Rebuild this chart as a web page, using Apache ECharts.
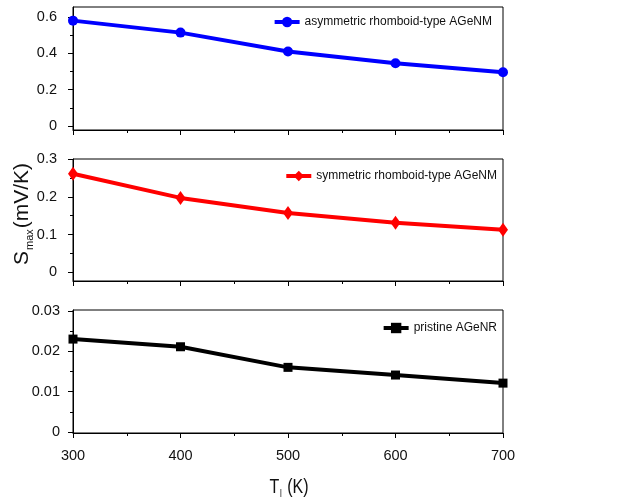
<!DOCTYPE html>
<html>
<head>
<meta charset="utf-8">
<script src="https://cdn.jsdelivr.net/npm/echarts@6/dist/echarts.min.js"></script>
<style>
html,body{margin:0;padding:0;background:#fff;}
#chart{width:621px;height:500px;}
</style>
</head>
<body>
<div id="chart"></div>
<script>
const temperatures = [300, 400, 500, 600, 700];
const asymValues = [0.58, 0.514, 0.41, 0.345, 0.296];
const symValues = [0.261, 0.197, 0.157, 0.131, 0.113];
const pristineValues = [0.023, 0.0211, 0.016, 0.0141, 0.0121];
const seriesNames = ['asymmetric rhomboid-type AGeNM', 'symmetric rhomboid-type AGeNM', 'pristine AGeNR'];
const yTicks1 = [0, 0.2, 0.4, 0.6];
const yMinor1 = [0.1, 0.3, 0.5];
const yTicks2 = [0, 0.1, 0.2, 0.3];
const yMinor2 = [0.05, 0.15, 0.25];
const yTicks3 = [0, 0.01, 0.02, 0.03];
const yMinor3 = [0.005, 0.015, 0.025];

const chart = echarts.init(document.getElementById('chart'), null, {renderer: 'canvas'});
const FONT = 'Liberation Sans, Arial, sans-serif';
const grids = [
  {left: 73, top: 7, width: 430, height: 123, show: true, borderColor: '#000', borderWidth: 1},
  {left: 73, top: 159, width: 430, height: 122, show: true, borderColor: '#000', borderWidth: 1},
  {left: 73, top: 310, width: 430, height: 123, show: true, borderColor: '#000', borderWidth: 1}
];
function xAxis(i, labels) {
  return {
    type: 'value', gridIndex: i, min: 300, max: 700, interval: 100,
    axisLine: {show: true, onZero: false, lineStyle: {color: '#000', width: 1}},
    axisTick: {show: true, inside: false, length: 5, lineStyle: {color: '#000'}},
    minorTick: {show: true, splitNumber: 2, length: 3, lineStyle: {color: '#000'}},
    splitLine: {show: false},
    axisLabel: {show: labels, margin: 15, color: '#111', fontSize: 14.5, fontFamily: FONT}
  };
}
function yAxis(i, min, max, ticks, margin) {
  return {
    type: 'value', gridIndex: i, min: min, max: max,
    axisLine: {show: true, lineStyle: {color: '#000', width: 1}},
    axisTick: {show: true, length: 5, customValues: ticks, lineStyle: {color: '#000'}},
    splitLine: {show: false},
    axisLabel: {show: true, customValues: ticks, margin: margin, color: '#111', fontSize: 14.5, fontFamily: FONT,
      formatter: v => String(+v.toFixed(4))}
  };
}
function yMinorAxis(i, min, max, ticks) {
  return {
    type: 'value', gridIndex: i, min: min, max: max, position: 'left',
    axisLine: {show: false},
    axisTick: {show: true, length: 3, customValues: ticks, lineStyle: {color: '#000'}},
    splitLine: {show: false},
    axisLabel: {show: false}
  };
}
const legendText = {fontSize: 12, color: '#111', fontFamily: FONT};
function legend(name, top, right) {
  return {data: [name], right: right, top: top, padding: 0, itemWidth: 25, itemHeight: 13,
    lineStyle: {width: 4}, textStyle: legendText};
}
const option = {
  animation: false,
  backgroundColor: '#fff',
  grid: grids,
  xAxis: [xAxis(0, false), xAxis(1, false), xAxis(2, true)],
  yAxis: [
    yAxis(0, -0.022, 0.655, yTicks1, 16),
    yAxis(1, -0.023, 0.3, yTicks2, 16),
    yAxis(2, -0.00025, 0.0302, yTicks3, 13),
    yMinorAxis(0, -0.022, 0.655, yMinor1),
    yMinorAxis(1, -0.023, 0.3, yMinor2),
    yMinorAxis(2, -0.00025, 0.0302, yMinor3)
  ],
  legend: [legend(seriesNames[0], 16, 129), legend(seriesNames[1], 170, 124), legend(seriesNames[2], 322, 124)],
  series: [
    {name: seriesNames[0], type: 'line', xAxisIndex: 0, yAxisIndex: 0,
     data: temperatures.map((t, k) => [t, asymValues[k]]),
     symbol: 'circle', symbolSize: 10, color: '#0000ff',
     lineStyle: {width: 4, color: '#0000ff'}, itemStyle: {color: '#0000ff'}},
    {name: seriesNames[1], type: 'line', xAxisIndex: 1, yAxisIndex: 1,
     data: temperatures.map((t, k) => [t, symValues[k]]),
     symbol: 'diamond', symbolSize: [10, 14], color: '#ff0000',
     lineStyle: {width: 4, color: '#ff0000'}, itemStyle: {color: '#ff0000'}},
    {name: seriesNames[2], type: 'line', xAxisIndex: 2, yAxisIndex: 2,
     data: temperatures.map((t, k) => [t, pristineValues[k]]),
     symbol: 'rect', symbolSize: 9, color: '#000000',
     lineStyle: {width: 4, color: '#000000'}, itemStyle: {color: '#000000'}}
  ],
  graphic: [
    {type: 'text', x: 289, y: 487, scaleX: 0.8, style: {
      text: '{t|T}{s|l}{t| (K)}', align: 'center', verticalAlign: 'middle',
      rich: {t: {fontSize: 20, fontFamily: FONT, fill: '#111'}, s: {fontSize: 10, fontFamily: FONT, fill: '#111', padding: [14, 1, 0, 1]}}
    }},
    {type: 'text', x: 10, y: 265, rotation: Math.PI / 2, style: {
      text: '{t|S}{s|max}{t|(mV/K)}', verticalAlign: 'top',
      rich: {t: {fontSize: 21, fontFamily: FONT, fill: '#111'}, s: {fontSize: 11, fontFamily: FONT, fill: '#111', padding: [14, 1, 0, 1]}}
    }}
  ]
};
chart.setOption(option);
</script>
</body>
</html>
